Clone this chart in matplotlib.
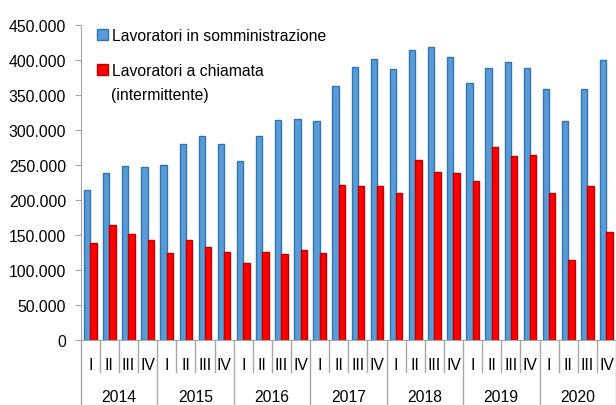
import numpy as np
import matplotlib
matplotlib.use("Agg")
import matplotlib.pyplot as plt
from matplotlib.ticker import FuncFormatter
import matplotlib.transforms as mtransforms

plt.rcParams['font.family'] = ['Liberation Sans', 'DejaVu Sans']

years = ['2014', '2015', '2016', '2017', '2018', '2019', '2020']
quarters = ['I', 'II', 'III', 'IV']

# lavoratori in somministrazione
somministrazione = [214000, 239000, 248500, 246500,
                    250500, 280000, 291500, 280000,
                    255500, 292000, 315000, 315500,
                    313500, 363000, 390000, 401500,
                    387000, 414000, 418500, 404500,
                    367500, 388500, 397500, 388500,
                    358500, 313500, 358500, 399500]
# lavoratori a chiamata (intermittente)
chiamata = [138500, 164000, 152000, 143000,
            125000, 143000, 133000, 125500,
            109500, 125500, 122500, 129000,
            125000, 221000, 220000, 220500,
            209500, 256500, 239500, 239000,
            227500, 275500, 263500, 265000,
            210500, 115000, 220000, 154000]

n = len(somministrazione)
x = np.arange(n)
w = 0.33
fs = 11.3

fig = plt.figure(figsize=(6.16, 4.06), dpi=100)
ax = fig.add_axes([0.131, 0.16, 0.869, 0.776])

ax.bar(x - w / 2, somministrazione, w, color='#5B9BD5', edgecolor='#2E75B6',
       linewidth=1.0, label='Lavoratori in somministrazione')
ax.bar(x + w / 2, chiamata, w, color='#FF0000', edgecolor='#C00000',
       linewidth=1.0, label='Lavoratori a chiamata')

ax.set_xlim(-0.5, n - 0.5)
ax.set_ylim(0, 450000)
ax.set_yticks(np.arange(0, 450001, 50000))
ax.yaxis.set_major_formatter(FuncFormatter(lambda v, p: f'{int(v):,}'.replace(',', '.')))
ax.tick_params(axis='y', labelsize=fs, length=4.5, color='#A6A6A6', pad=6)

for s in ['top', 'right']:
    ax.spines[s].set_visible(False)
ax.spines['left'].set_color('#A6A6A6')
ax.spines['bottom'].set_color('#A6A6A6')

# two-level category axis
ax.set_xticks(x)
ax.set_xticklabels(quarters * len(years), fontsize=fs)
ax.tick_params(axis='x', length=0, pad=12)
trans = mtransforms.blended_transform_factory(ax.transData, ax.transAxes)
for i in range(n + 1):
    ybot = -0.206 if i % 4 == 0 else -0.102
    ax.plot([i - 0.5, i - 0.5], [0, ybot], color='#A6A6A6', lw=1,
            transform=trans, clip_on=False)
for k, yr in enumerate(years):
    ax.text(4 * k + 1.5, -0.178, yr, transform=trans, ha='center', va='center',
            fontsize=fs)

leg = ax.legend(loc='upper left', bbox_to_anchor=(0.005, 1.035), frameon=False,
                fontsize=fs, handlelength=0.65, handleheight=0.65,
                handletextpad=0.3, labelspacing=1.27)

# second line of the red label, aligned under the first (marker stays on line 1)
fig.canvas.draw()
bb = leg.get_texts()[1].get_window_extent().transformed(fig.transFigure.inverted())
fig.text(bb.x0 - 1.5 / 616, bb.y0 - 8.5 / 406, '(intermittente)', ha='left', va='top',
         fontsize=fs)

fig.savefig('out.png', dpi=100)
